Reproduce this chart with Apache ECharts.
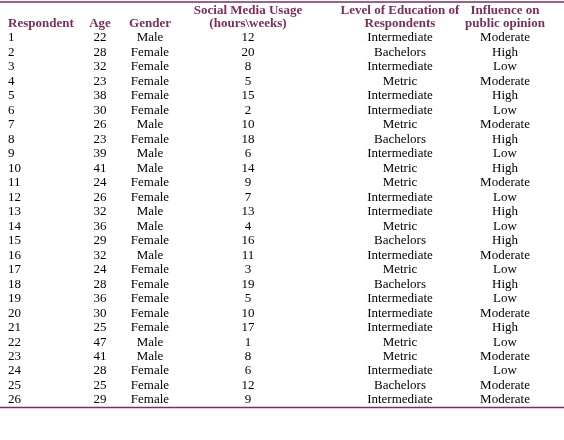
<!DOCTYPE html>
<html><head><meta charset="utf-8">
<script src="https://cdn.jsdelivr.net/npm/echarts@6/dist/echarts.min.js"></script>
<style>html,body{margin:0;padding:0;background:#fff}#c{width:564px;height:440px}</style>
</head><body><div id="c"></div>
<script>
const respondents = [1,2,3,4,5,6,7,8,9,10,11,12,13,14,15,16,17,18,19,20,21,22,23,24,25,26];
const ages = [22,28,32,23,38,30,26,23,39,41,24,26,32,36,29,32,24,28,36,30,25,47,41,28,25,29];
const genders = ["Male","Female","Female","Female","Female","Female","Male","Female","Male","Male","Female","Female","Male","Male","Female","Male","Female","Female","Female","Female","Female","Male","Male","Female","Female","Female"];
const usage = [12,20,8,5,15,2,10,18,6,14,9,7,13,4,16,11,3,19,5,10,17,1,8,6,12,9];
const education = ["Intermediate","Bachelors","Intermediate","Metric","Intermediate","Intermediate","Metric","Bachelors","Intermediate","Metric","Metric","Intermediate","Intermediate","Metric","Bachelors","Intermediate","Metric","Bachelors","Intermediate","Intermediate","Intermediate","Metric","Metric","Intermediate","Bachelors","Intermediate"];
const influence = ["Moderate","High","Low","Moderate","High","Low","Moderate","High","Low","High","Moderate","Low","High","Low","High","Moderate","Low","High","Low","Moderate","High","Low","Moderate","Low","Moderate","Moderate"];
const headers = ["Respondent","Age","Gender","Social Media Usage\n(hours\\weeks)","Level of Education of\nRespondents","Influence on\npublic opinion"];

const colX = [8,100,150,248,400,505];
const colAlign = ['left','center','center','center','center','center'];
const cols = [respondents,ages,genders,usage,education,influence];
const font = 'Liberation Serif';
const purple = '#7a2d5e';

const series = cols.map((vals,ci)=>({
  type:'scatter', symbolSize:1, itemStyle:{color:'#fff', opacity:1},
  data: vals.map((v,ri)=>({value:[colX[ci], ri], name:String(v)})),
  label:{show:true, position:'inside', align:colAlign[ci], verticalAlign:'middle', opacity:1,
    formatter:p=>p.name, color:'#000', fontFamily:font, fontSize:13},
  silent:true, animation:false
}));

const graphic = [
  {type:'line', shape:{x1:0,y1:2,x2:564,y2:2}, style:{stroke:purple,lineWidth:1.5}},
  {type:'line', shape:{x1:0,y1:407.5,x2:564,y2:407.5}, style:{stroke:purple,lineWidth:1.5}}
];
headers.forEach((h,i)=>{
  const lines = h.split('\n');
  lines.forEach((t,k)=>{
    const y = lines.length===1 ? 24 : (k===0 ? 11 : 24);
    graphic.push({type:'text', x:colX[i], y:y, style:{text:t, fill:purple, font:'bold 13px "'+font+'"', align:colAlign[i], verticalAlign:'middle'}});
  });
});

const chart = echarts.init(document.getElementById('c'));
chart.setOption({
  animation:false,
  grid:{left:0,right:0,top:30.76,bottom:32.76},
  xAxis:{type:'value',min:0,max:564,show:false},
  yAxis:{type:'category',data:respondents.map(String),inverse:true,show:false},
  series, graphic
});
</script></body></html>
